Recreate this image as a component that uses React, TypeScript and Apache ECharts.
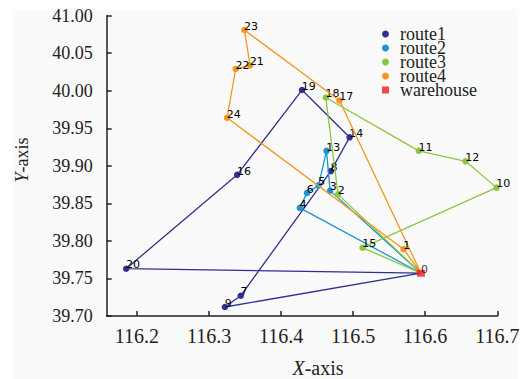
import React, { useEffect, useRef } from 'react';
import * as echarts from 'echarts';

// node coordinates (index = node id)
const nodeLon = [
  116.594, 116.570, 116.479, 116.468, 116.426, 116.452, 116.436, 116.344, 116.469, 116.322,
  116.699, 116.591, 116.656, 116.463, 116.495, 116.513, 116.339, 116.481, 116.462, 116.429,
  116.185, 116.357, 116.337, 116.349, 116.325,
];
const nodeLat = [
  39.757, 39.789, 39.862, 39.867, 39.844, 39.874, 39.864, 39.727, 39.893, 39.712,
  39.871, 39.920, 39.906, 39.920, 39.938, 39.791, 39.888, 39.987, 39.991, 40.001,
  39.763, 40.034, 40.029, 40.081, 39.964,
];

const routeNames = ['route1', 'route2', 'route3', 'route4'];
const routeColors = ['#2e3192', '#1b93d4', '#8cc63f', '#f7941d'];
const route1 = [0, 20, 16, 19, 14, 8, 7, 9, 0];
const route2 = [0, 4, 6, 5, 13, 3, 0];
const route3 = [0, 2, 18, 11, 12, 10, 15, 0];
const route4 = [0, 1, 24, 22, 21, 23, 17, 0];
const routes = [route1, route2, route3, route4];

const depotId = 0;
const xTickValues = [116.2, 116.3, 116.4, 116.5, 116.6, 116.7];
const yTickLabels = ['39.70', '39.75', '39.80', '39.85', '39.90', '39.95', '40.00', '40.05', '41.00'];

const serif = "'Liberation Serif', 'Times New Roman', serif";
const sans = "'DejaVu Sans', sans-serif";

export default function App() {
  const ref = useRef<HTMLDivElement>(null);
  useEffect(() => {
    if (!ref.current) return;
    const chart = echarts.init(ref.current, undefined, { renderer: 'svg' });

    const routeSeries = routes.map((r, i) => ({
      type: 'line',
      name: routeNames[i],
      color: routeColors[i],
      symbol: 'circle',
      symbolSize: 6.5,
      lineStyle: { width: 1.3, color: routeColors[i] },
      itemStyle: { color: routeColors[i] },
      z: 2 + i,
      label: {
        show: true,
        position: [3, 5],
        align: 'left',
        verticalAlign: 'bottom',
        fontFamily: sans,
        fontSize: 11,
        color: '#000',
        formatter: (p: any) => String(p.value[2]),
      },
      data: r.map((id) =>
        id === depotId
          ? { value: [nodeLon[id], nodeLat[id], id], symbol: 'none', label: { show: false } }
          : { value: [nodeLon[id], nodeLat[id], id] }
      ),
    }));

    const option: any = {
      animation: false,
      backgroundColor: '#ffffff',
      graphic: [
        {
          type: 'rect',
          z: -100,
          silent: true,
          shape: { x: 12, y: 9, width: 505, height: 370 },
          style: { fill: '#fafafa' },
        },
        {
          type: 'text',
          x: 318,
          y: 368,
          style: {
            text: '{i|X}{n|-axis}',
            align: 'center',
            verticalAlign: 'middle',
            fontFamily: serif,
            fontSize: 20,
            fill: '#222',
            rich: {
              i: { fontStyle: 'italic', fontFamily: serif, fontSize: 20, fill: '#222' },
              n: { fontFamily: serif, fontSize: 20, fill: '#222' },
            },
          },
        },
        {
          type: 'text',
          x: 22,
          y: 160,
          rotation: Math.PI / 2,
          style: {
            text: '{i|Y}{n|-axis}',
            align: 'center',
            verticalAlign: 'middle',
            fontFamily: serif,
            fontSize: 18,
            fill: '#222',
            rich: {
              i: { fontStyle: 'italic', fontFamily: serif, fontSize: 18, fill: '#222' },
              n: { fontFamily: serif, fontSize: 18, fill: '#222' },
            },
          },
        },
      ],
      legend: {
        orient: 'vertical',
        left: 382,
        top: 25,
        itemWidth: 7,
        itemHeight: 7,
        itemGap: -4,
        padding: 0,
        textStyle: {
          fontFamily: serif,
          fontSize: 18,
          color: '#222',
          padding: [0, 0, 0, 6],
        },
        data: [
          { name: 'route1', icon: 'circle' },
          { name: 'route2', icon: 'circle' },
          { name: 'route3', icon: 'circle' },
          { name: 'route4', icon: 'circle' },
          { name: 'warehouse', icon: 'rect' },
        ],
      },
      grid: { left: 106.7, right: 31.7, top: 15.7, bottom: 63, containLabel: false },
      xAxis: {
        type: 'value',
        min: 116.158,
        max: 116.7,
        splitLine: { show: false },
        axisLine: { show: true, lineStyle: { color: '#222', width: 1.5 } },
        axisTick: { show: true, inside: true, length: 5, customValues: xTickValues, lineStyle: { color: '#222', width: 1.5 } },
        axisLabel: {
          customValues: xTickValues,
          fontFamily: serif,
          fontSize: 20,
          color: '#222',
          margin: 10,
          formatter: (v: number) => v.toFixed(1),
        },
      },
      yAxis: {
        type: 'value',
        min: 39.7,
        max: 40.1,
        interval: 0.05,
        splitLine: { show: false },
        axisLine: { show: true, lineStyle: { color: '#222', width: 1.5 } },
        axisTick: { show: true, inside: true, length: 5, lineStyle: { color: '#222', width: 1.5 } },
        axisLabel: {
          fontFamily: serif,
          fontSize: 18,
          color: '#222',
          margin: 14,
          formatter: (v: number) => {
            const k = Math.round((v - 39.7) / 0.05);
            return yTickLabels[k] ?? String(v);
          },
        },
      },
      series: [
        ...routeSeries,
        {
          type: 'scatter',
          name: 'warehouse',
          symbol: 'rect',
          symbolSize: [8, 7],
          z: 10,
          itemStyle: { color: '#ed1c24' },
          label: {
            show: true,
            position: [4, 5],
            align: 'left',
            verticalAlign: 'bottom',
            fontFamily: sans,
            fontSize: 11,
            color: '#000',
            formatter: (p: any) => String(p.value[2]),
          },
          data: [[nodeLon[depotId], nodeLat[depotId], depotId]],
        },
      ],
    };
    chart.setOption(option);
    return () => chart.dispose();
  }, []);
  return (
    <div
      ref={ref}
      style={{ position: 'fixed', left: 0, top: 0, width: 529, height: 379 }}
    />
  );
}
